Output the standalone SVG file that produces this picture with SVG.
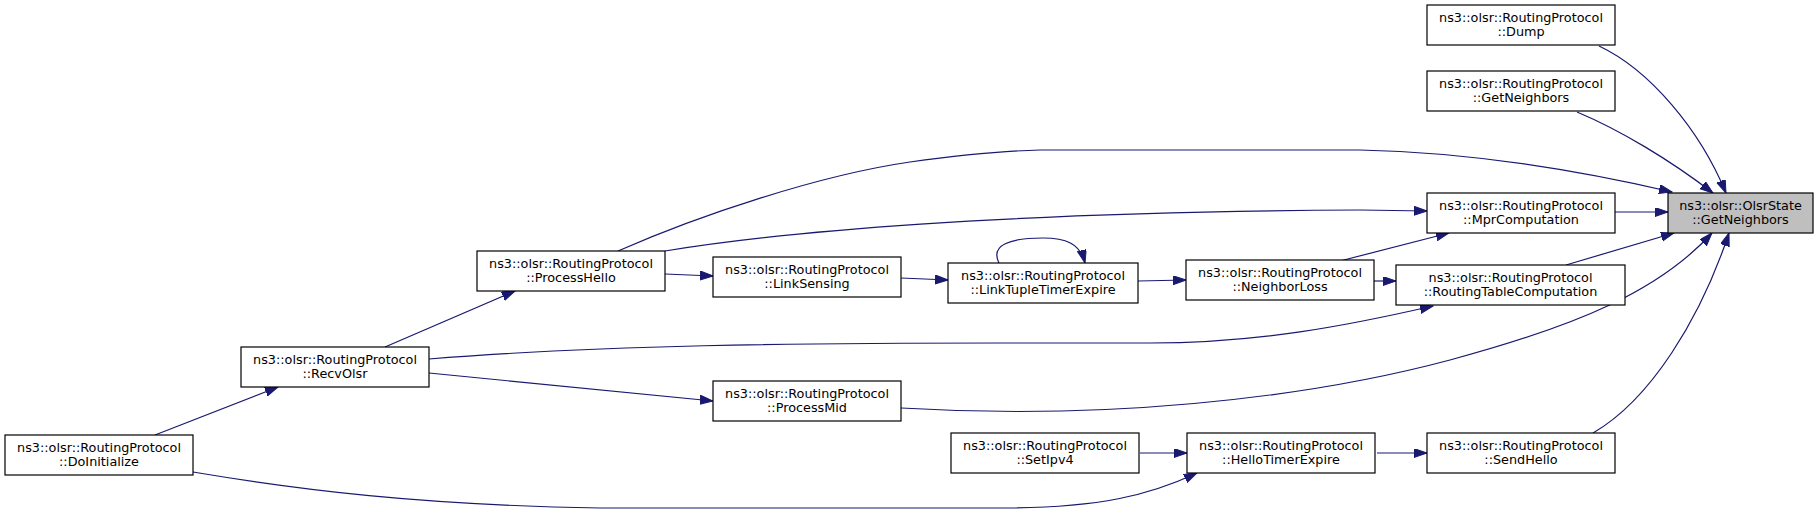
<svg xmlns="http://www.w3.org/2000/svg" width="1819" height="515" viewBox="0 0 1819 515">
<style>
.n rect{fill:#ffffff;stroke:#000000;stroke-width:1.2}
.n.hl rect{fill:#bfbfbf}
.n text{font-family:"DejaVu Sans",sans-serif;font-size:12.8px;fill:#000000;text-anchor:middle}
.e path{fill:none;stroke:#191970;stroke-width:1.2;marker-end:url(#ah)}
</style>
<defs>
<marker id="ah" markerUnits="userSpaceOnUse" markerWidth="14" markerHeight="10" refX="13" refY="4.5" orient="auto" viewBox="0 0 14 10">
<path d="M0,0 L13,4.5 L0,9 z" fill="#191970" stroke="#191970" stroke-width="1"/>
</marker>
</defs>
<rect x="0" y="0" width="1819" height="515" fill="#ffffff"/>
<g id="edges" class="e">
<path d="M1599,46 C1650,70 1700,130 1726,193"/>
<path d="M1577,112 C1620,130 1670,160 1713,193"/>
<path d="M618,251 C700,215 820,175 910,162 C960,155 1000,151 1040,150 L1360,150 C1460,152 1560,166 1672,192"/>
<path d="M1615,212 L1668,212"/>
<path d="M665,251 C780,232 1000,212 1360,210 L1427,211"/>
<path d="M1340,261 L1449,233"/>
<path d="M1566,265 L1674,233"/>
<path d="M901,408 C1100,420 1300,400 1450,360 C1580,325 1660,290 1712,233"/>
<path d="M1593,433 C1650,400 1700,320 1729,233"/>
<path d="M665,274 L713,276"/>
<path d="M901,278 L948,280"/>
<path d="M999,263 C990,245 1010,238 1043,238 C1065,238 1080,243 1085,263"/>
<path d="M1138,281 L1186,280"/>
<path d="M1374,281 L1396,281"/>
<path d="M385,347 L515,291"/>
<path d="M429,359 C600,345 800,343 1000,343 L1150,343 C1260,343 1350,325 1433,306"/>
<path d="M429,373 L713,401"/>
<path d="M155,435 L278,387"/>
<path d="M193,472 C300,490 420,505 600,508 L1000,508 C1100,508 1150,495 1197,473"/>
<path d="M1140,453 L1187,453"/>
<path d="M1377,453 L1427,453"/>
</g>
<g id="n_dump" class="n"><rect x="1427" y="5" width="188" height="40"/><text x="1521" y="21.5">ns3::olsr::RoutingProtocol</text><text x="1521" y="36">::Dump</text></g>
<g id="n_getneighbors_rp" class="n"><rect x="1427" y="71" width="188" height="40"/><text x="1521" y="87.5">ns3::olsr::RoutingProtocol</text><text x="1521" y="102">::GetNeighbors</text></g>
<g id="n_olsrstate" class="n hl"><rect x="1668" y="193" width="145" height="40"/><text x="1740.5" y="209.5">ns3::olsr::OlsrState</text><text x="1740.5" y="224">::GetNeighbors</text></g>
<g id="n_mpr" class="n"><rect x="1427" y="193" width="188" height="40"/><text x="1521" y="209.5">ns3::olsr::RoutingProtocol</text><text x="1521" y="224">::MprComputation</text></g>
<g id="n_rtc" class="n"><rect x="1396" y="265" width="229" height="40"/><text x="1510.5" y="281.5">ns3::olsr::RoutingProtocol</text><text x="1510.5" y="296">::RoutingTableComputation</text></g>
<g id="n_sendhello" class="n"><rect x="1427" y="433" width="188" height="40"/><text x="1521" y="449.5">ns3::olsr::RoutingProtocol</text><text x="1521" y="464">::SendHello</text></g>
<g id="n_processhello" class="n"><rect x="477" y="251" width="188" height="40"/><text x="571" y="267.5">ns3::olsr::RoutingProtocol</text><text x="571" y="282">::ProcessHello</text></g>
<g id="n_linksensing" class="n"><rect x="713" y="257" width="188" height="40"/><text x="807" y="273.5">ns3::olsr::RoutingProtocol</text><text x="807" y="288">::LinkSensing</text></g>
<g id="n_linktuple" class="n"><rect x="948" y="263" width="190" height="40"/><text x="1043" y="279.5">ns3::olsr::RoutingProtocol</text><text x="1043" y="294">::LinkTupleTimerExpire</text></g>
<g id="n_neighborloss" class="n"><rect x="1186" y="260" width="188" height="40"/><text x="1280" y="276.5">ns3::olsr::RoutingProtocol</text><text x="1280" y="291">::NeighborLoss</text></g>
<g id="n_recvolsr" class="n"><rect x="241" y="347" width="188" height="40"/><text x="335" y="363.5">ns3::olsr::RoutingProtocol</text><text x="335" y="378">::RecvOlsr</text></g>
<g id="n_processmid" class="n"><rect x="713" y="381" width="188" height="40"/><text x="807" y="397.5">ns3::olsr::RoutingProtocol</text><text x="807" y="412">::ProcessMid</text></g>
<g id="n_setipv4" class="n"><rect x="951" y="433" width="188" height="40"/><text x="1045" y="449.5">ns3::olsr::RoutingProtocol</text><text x="1045" y="464">::SetIpv4</text></g>
<g id="n_hellotimer" class="n"><rect x="1187" y="433" width="188" height="40"/><text x="1281" y="449.5">ns3::olsr::RoutingProtocol</text><text x="1281" y="464">::HelloTimerExpire</text></g>
<g id="n_doinit" class="n"><rect x="5" y="435" width="188" height="40"/><text x="99" y="451.5">ns3::olsr::RoutingProtocol</text><text x="99" y="466">::DoInitialize</text></g>
</svg>
